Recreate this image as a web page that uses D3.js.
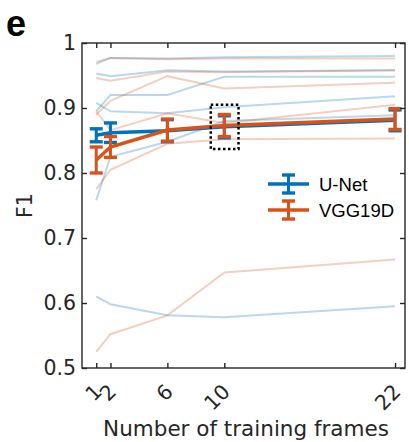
<!DOCTYPE html>
<html><head><meta charset="utf-8">
<script src="https://cdn.jsdelivr.net/npm/d3@7"></script>
<style>html,body{margin:0;padding:0;background:#fff;}</style>
</head><body>
<svg id="chart" width="409" height="442"></svg>
<script>
const frames = [1, 2, 6, 10, 22];
const yTicks = [0.5, 0.6, 0.7, 0.8, 0.9, 1];
const yTickLabels = ["0.5", "0.6", "0.7", "0.8", "0.9", "1"];
const seriesNames = ["U-Net", "VGG19D"];
const unetMean = [0.858, 0.862, 0.865, 0.871, 0.881];
const unetErr  = [0.010, 0.015, 0.017, 0.017, 0.016];
const vggMean  = [0.820, 0.840, 0.866, 0.873, 0.883];
const vggErr   = [0.020, 0.016, 0.017, 0.017, 0.016];
const unetRuns = [
  [0.968, 0.977, 0.976, 0.978, 0.980],
  [0.953, 0.949, 0.958, 0.956, 0.958],
  [0.895, 0.920, 0.920, 0.948, 0.948],
  [0.908, 0.895, 0.892, 0.901, 0.918],
  [0.758, 0.825, 0.848, 0.880, 0.889],
  [0.610, 0.598, 0.581, 0.578, 0.595]
];
const vggRuns = [
  [0.971, 0.977, 0.975, 0.976, 0.976],
  [0.946, 0.942, 0.956, 0.955, 0.958],
  [0.890, 0.911, 0.949, 0.930, 0.939],
  [0.895, 0.866, 0.892, 0.877, 0.905],
  [0.775, 0.805, 0.845, 0.852, 0.853],
  [0.525, 0.552, 0.581, 0.647, 0.667]
];
const highlightBox = {x0: 9.05, x1: 11.0, y0: 0.905, y1: 0.837};

const blue = "#0072BD", orange = "#D95319", axisCol = "#262626";
const svg = d3.select("#chart");
const L = 82, R = 405, T = 43, B = 368;
const x = d3.scaleLinear().domain([0, 22.7]).range([L, R]);
const y = d3.scaleLinear().domain([0.5, 1]).range([B, T]);
const tickFont = "'DejaVu Sans', sans-serif";

// panel letter
svg.append("text").attr("x", 6).attr("y", 36).text("e")
  .attr("font-family", "'Liberation Sans', Arial, sans-serif").attr("font-weight", "bold")
  .attr("font-size", 36).attr("fill", "#000");

svg.append("defs").append("clipPath").attr("id", "clip")
  .append("rect").attr("x", L).attr("y", T).attr("width", R - L).attr("height", B - T);
const plot = svg.append("g").attr("clip-path", "url(#clip)");

const line = d3.line().x((d, i) => x(frames[i])).y(d => y(d));

// individual runs
unetRuns.forEach(r => plot.append("path").attr("d", line(r)).attr("fill", "none")
  .attr("stroke", blue).attr("stroke-opacity", 0.28).attr("stroke-width", 2));
vggRuns.forEach(r => plot.append("path").attr("d", line(r)).attr("fill", "none")
  .attr("stroke", orange).attr("stroke-opacity", 0.28).attr("stroke-width", 2));

function drawMean(mean, err, col) {
  const g = svg.append("g");
  g.append("path").attr("d", line(mean)).attr("fill", "none")
    .attr("stroke", col).attr("stroke-width", 3.5);
  mean.forEach((m, i) => {
    const cx = x(frames[i]);
    g.append("line").attr("x1", cx).attr("x2", cx).attr("y1", y(m - err[i])).attr("y2", y(m + err[i]))
      .attr("stroke", col).attr("stroke-width", 3);
    [m - err[i], m + err[i]].forEach(v => g.append("line")
      .attr("x1", cx - 6.5).attr("x2", cx + 6.5).attr("y1", y(v)).attr("y2", y(v))
      .attr("stroke", col).attr("stroke-width", 3.4));
  });
}
drawMean(unetMean, unetErr, blue);
drawMean(vggMean, vggErr, orange);

// dotted highlight box
svg.append("rect").attr("x", x(highlightBox.x0)).attr("y", y(highlightBox.y0))
  .attr("width", x(highlightBox.x1) - x(highlightBox.x0)).attr("height", y(highlightBox.y1) - y(highlightBox.y0))
  .attr("fill", "none").attr("stroke", "#000").attr("stroke-width", 2.5).attr("stroke-dasharray", "2.5,2.5");

// axes box
svg.append("rect").attr("x", L).attr("y", T).attr("width", R - L).attr("height", B - T)
  .attr("fill", "none").attr("stroke", axisCol).attr("stroke-width", 1.4);

const axB = svg.append("g").attr("transform", `translate(0,${B})`)
  .call(d3.axisBottom(x).tickValues(frames).tickSize(-5).tickFormat(""));
const axT = svg.append("g").attr("transform", `translate(0,${T})`)
  .call(d3.axisTop(x).tickValues(frames).tickSize(-5).tickFormat(""));
const axL = svg.append("g").attr("transform", `translate(${L},0)`)
  .call(d3.axisLeft(y).tickValues(yTicks).tickSize(-5).tickFormat((d, i) => yTickLabels[i]).tickPadding(6));
const axR = svg.append("g").attr("transform", `translate(${R},0)`)
  .call(d3.axisRight(y).tickValues(yTicks).tickSize(-5).tickFormat(""));
[axB, axT, axL, axR].forEach(a => {
  a.select(".domain").remove();
  a.selectAll(".tick line").attr("stroke", axisCol).attr("stroke-width", 1.4);
});
axL.selectAll(".tick text").attr("font-family", tickFont).attr("font-size", 20.5).attr("fill", axisCol);

// rotated x tick labels
svg.append("g").selectAll("text").data(frames).join("text")
  .attr("transform", d => `translate(${x(d) + 2},${B + 20}) rotate(-45)`)
  .attr("text-anchor", "end").attr("dominant-baseline", "central")
  .attr("font-family", tickFont).attr("font-size", 20.5).attr("fill", axisCol)
  .text(d => d);

svg.append("text").attr("x", 246).attr("y", 436).attr("text-anchor", "middle")
  .attr("font-family", tickFont).attr("font-size", 21.5).attr("fill", axisCol)
  .text("Number of training frames");
svg.append("text").attr("transform", `translate(32,${(T + B) / 2}) rotate(-90)`).attr("text-anchor", "middle")
  .attr("font-family", tickFont).attr("font-size", 20.5).attr("fill", axisCol).text("F1");

// legend
const leg = svg.append("g");
[blue, orange].forEach((col, i) => {
  const ly = 184 + i * 26;
  leg.append("line").attr("x1", 268).attr("x2", 309).attr("y1", ly).attr("y2", ly)
    .attr("stroke", col).attr("stroke-width", 3.5);
  leg.append("line").attr("x1", 288.5).attr("x2", 288.5).attr("y1", ly - 9).attr("y2", ly + 9)
    .attr("stroke", col).attr("stroke-width", 3);
  [ly - 9, ly + 9].forEach(v => leg.append("line").attr("x1", 282).attr("x2", 295)
    .attr("y1", v).attr("y2", v).attr("stroke", col).attr("stroke-width", 3.4));
  leg.append("text").attr("x", 319).attr("y", ly).attr("dominant-baseline", "central")
    .attr("font-family", "'Liberation Sans', Arial, sans-serif").attr("font-size", 18.5).attr("fill", "#000")
    .text(seriesNames[i]);
});
</script>
</body></html>
